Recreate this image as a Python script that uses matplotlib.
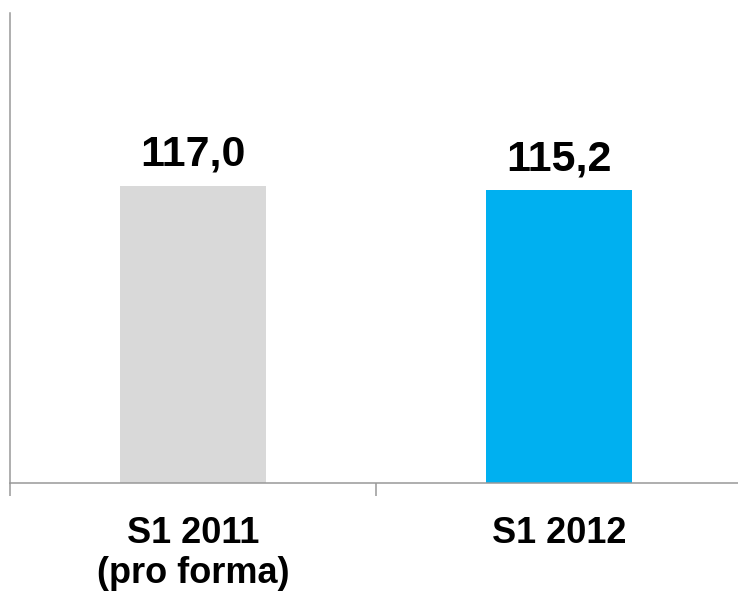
import matplotlib.pyplot as plt

categories = ['S1 2011\n(pro forma)', 'S1 2012']
values = [117.0, 115.2]
colors = ['#d9d9d9', '#00b0f0']

plt.rcParams['font.family'] = ['Liberation Sans', 'DejaVu Sans']

fig = plt.figure(figsize=(7.38, 5.93), dpi=100)
ax = fig.add_axes([10 / 738, (593 - 483) / 593, 732 / 738, 470 / 593])

x = range(len(values))
ax.bar(x, values, width=0.4, color=colors)
for xi, v in zip(x, values):
    ax.text(xi, v + 7.9, f'{v:.1f}'.replace('.', ','), ha='center', va='baseline',
            fontsize=31, fontweight='bold')

ax.set_xlim(-0.5, 1.5)
ax.set_ylim(0, 185)
ax.set_yticks([])
ax.set_xticks([-0.5, 0.5, 1.5])
ax.set_xticklabels([])
ax.tick_params(axis='x', direction='out', length=9, color='#999999', width=1.1)
for s in ['top', 'right']:
    ax.spines[s].set_visible(False)
for s in ['left', 'bottom']:
    ax.spines[s].set_color('#999999')
    ax.spines[s].set_linewidth(1.1)

for xi, lab in zip(x, categories):
    ax.text(xi, -13, lab, ha='center', va='top', fontsize=26,
            fontweight='bold', linespacing=1.2)

fig.savefig('out.png', dpi=100)
